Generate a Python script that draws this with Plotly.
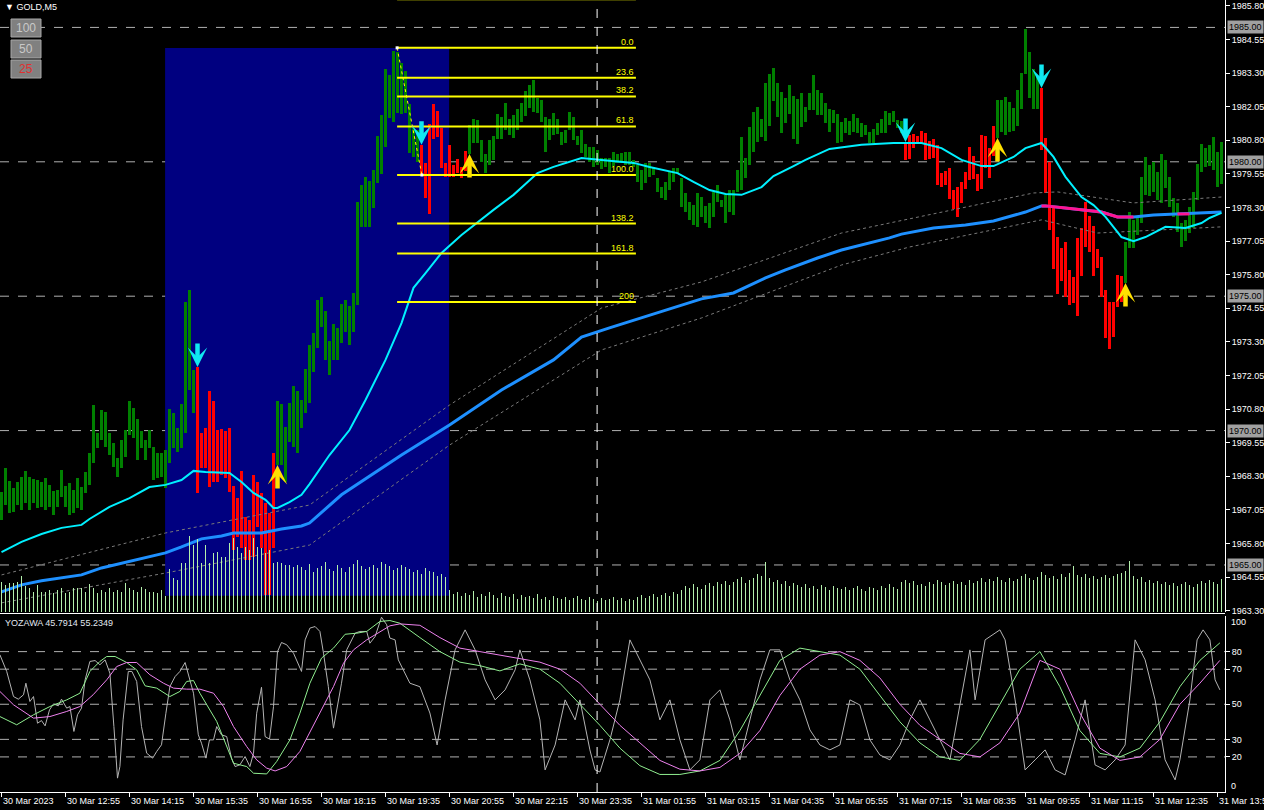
import plotly.graph_objects as go

# ---------------- data ----------------
bar_high = [
1967.72,1968.61,1968.13,1967.87,1968.09,1968.27,1968.50,1968.27,1968.20,1968.16,
1968.09,1968.24,1967.98,1967.75,1967.79,1968.54,1967.94,1968.05,1967.79,1968.24,
1967.90,1968.46,1969.17,1970.95,1969.91,1970.77,1970.69,1969.91,1969.54,1968.98,
1969.65,1970.02,1971.10,1970.84,1970.43,1969.98,1969.65,1970.02,1969.39,1969.17,
1969.17,1969.28,1970.80,1970.66,1970.10,1971.00,1974.79,1975.23,1972.26,1972.37,
1969.91,1970.10,1971.47,1971.10,1970.02,1970.06,1969.98,1970.10,1967.94,1967.49,
1968.50,1966.79,1966.68,1968.35,1968.09,1967.68,1967.31,1966.94,1969.17,1971.10,
1970.99,1970.13,1971.03,1971.66,1971.47,1971.14,1972.29,1973.19,1973.63,1974.86,
1974.97,1974.45,1973.33,1973.97,1973.82,1974.71,1974.86,1974.64,1975.12,1978.51,
1979.14,1979.44,1979.29,1979.70,1980.96,1981.74,1983.45,1983.23,1984.12,1984.09,
1983.68,1983.38,1982.15,1981.26,1981.18,1980.63,1979.96,1981.41,1982.15,1981.89,
1981.26,1979.96,1980.63,1979.88,1980.11,1979.81,1980.40,1981.37,1981.59,1981.56,
1980.81,1980.29,1980.81,1980.96,1981.78,1981.67,1982.19,1981.59,1981.74,1981.97,
1982.19,1982.63,1982.86,1983.04,1982.37,1982.30,1981.67,1981.59,1981.82,1981.59,
1981.11,1981.18,1981.85,1981.67,1980.96,1981.18,1980.66,1980.55,1980.55,1980.44,
1980.14,1980.14,1980.14,1980.37,1980.29,1980.33,1980.37,1980.37,1980.07,1979.88,
1979.70,1979.96,1979.96,1979.81,1979.40,1979.06,1979.25,1979.66,1979.77,1979.77,
1979.40,1978.84,1978.51,1978.39,1978.84,1978.69,1978.36,1978.47,1978.88,1979.14,
1978.58,1978.77,1978.95,1978.95,1979.70,1980.92,1980.14,1981.30,1981.85,1982.04,
1981.59,1982.93,1983.27,1983.49,1982.93,1982.60,1982.37,1982.86,1982.45,1982.34,
1982.56,1982.04,1982.56,1983.23,1982.67,1982.56,1982.19,1981.97,1981.93,1981.78,
1981.48,1981.63,1981.52,1981.78,1981.63,1981.44,1981.37,1981.11,1981.22,1981.44,
1981.59,1981.89,1981.82,1981.89,1981.56,1981.52,1980.74,1981.00,1981.04,1980.96,
1981.15,1981.07,1980.77,1980.85,1980.63,1979.58,1979.66,1979.77,1978.95,1979.06,
1979.25,1979.62,1980.55,1980.22,1979.55,1981.00,1980.96,1980.51,1981.33,1982.30,
1982.30,1982.41,1982.23,1982.00,1982.67,1983.30,1984.94,1984.09,1983.45,1983.16,
1982.75,1980.89,1979.99,1978.28,1977.20,1976.79,1977.02,1975.98,1975.72,1977.17,
1977.54,1978.51,1977.98,1977.61,1976.76,1976.46,1975.23,1974.79,1974.79,1975.79,
1975.75,1977.02,1978.13,1977.84,1977.95,1979.44,1980.18,1979.88,1980.00,1979.62,
1980.29,1980.07,1979.44,1978.65,1978.47,1977.72,1977.84,1978.32,1978.88,1979.92,
1980.66,1980.51,1980.63,1980.92,1980.37,1980.74]

bar_low = [
1966.68,1967.23,1966.94,1966.97,1967.23,1967.05,1967.31,1967.05,1967.31,1967.12,
1967.16,1967.05,1967.16,1966.86,1967.16,1967.53,1967.16,1966.86,1966.94,1967.12,
1967.05,1967.68,1967.98,1968.80,1969.35,1969.65,1969.39,1969.09,1968.65,1968.27,
1968.61,1969.02,1969.84,1969.72,1968.91,1969.35,1968.91,1969.35,1968.16,1968.24,
1968.27,1967.87,1968.80,1969.35,1969.20,1969.35,1969.91,1971.51,1970.66,1967.68,
1968.61,1968.61,1967.90,1968.09,1968.09,1968.35,1968.24,1967.72,1965.56,1966.04,
1965.63,1965.19,1965.19,1965.30,1966.42,1965.63,1963.88,1963.88,1965.63,1968.72,
1968.72,1968.09,1969.58,1969.39,1969.17,1970.10,1970.66,1971.03,1972.18,1973.07,
1973.86,1972.63,1972.07,1972.63,1972.63,1973.26,1973.67,1973.19,1973.67,1974.67,
1977.58,1977.58,1977.58,1978.28,1979.21,1979.55,1980.55,1981.63,1981.48,1981.82,
1981.78,1981.82,1980.33,1980.18,1980.00,1979.51,1978.65,1978.06,1980.85,1980.92,
1979.77,1979.44,1979.44,1979.44,1979.58,1979.40,1979.66,1980.29,1980.70,1980.70,
1980.00,1979.58,1979.88,1980.07,1980.85,1980.85,1981.18,1981.00,1980.89,1981.18,
1981.48,1981.70,1982.00,1981.85,1981.82,1981.48,1980.37,1980.81,1981.00,1981.04,
1980.63,1980.70,1981.18,1980.81,1980.63,1980.33,1980.18,1980.00,1979.81,1979.88,
1979.73,1979.81,1979.58,1979.84,1979.96,1979.96,1979.88,1979.88,1979.81,1979.25,
1978.95,1979.21,1979.44,1979.51,1978.88,1978.65,1978.58,1978.95,1979.25,1979.55,
1978.32,1978.13,1977.84,1977.65,1977.58,1977.95,1977.72,1977.54,1977.95,1978.51,
1978.32,1977.72,1978.13,1978.02,1978.88,1978.95,1979.40,1979.88,1980.37,1980.74,
1980.92,1980.77,1981.33,1982.26,1981.67,1981.07,1981.44,1981.78,1980.85,1980.66,
1981.30,1981.48,1981.93,1981.93,1981.74,1981.74,1981.44,1981.11,1981.44,1980.70,
1980.74,1981.07,1981.00,1981.11,1981.07,1980.92,1981.00,1980.70,1980.70,1981.00,
1981.07,1981.07,1981.37,1981.48,1981.26,1981.07,1980.07,1980.11,1980.51,1980.70,
1980.70,1980.07,1980.11,1980.14,1979.14,1979.06,1979.14,1978.62,1978.24,1977.95,
1978.47,1978.99,1979.32,1979.36,1978.92,1978.99,1979.77,1979.40,1980.22,1980.89,
1981.11,1981.00,1981.11,1981.15,1981.33,1981.97,1983.27,1982.37,1981.97,1981.97,
1980.44,1978.84,1977.46,1976.01,1975.08,1975.57,1974.97,1974.67,1974.75,1974.26,
1975.75,1976.83,1976.64,1975.75,1976.05,1974.97,1973.45,1973.04,1973.48,1974.60,
1974.79,1975.49,1976.79,1976.79,1977.28,1977.72,1978.77,1978.73,1978.88,1978.58,
1978.47,1979.03,1978.32,1977.95,1977.39,1976.83,1977.05,1977.35,1977.54,1978.58,
1979.62,1979.81,1979.84,1979.70,1979.06,1979.18]

volume = [
300,270,290,290,300,360,260,240,200,270,200,200,220,190,220,240,190,200,240,240,
240,200,280,240,190,220,200,240,200,220,200,290,240,220,200,250,230,200,200,190,
220,160,
430,340,320,490,490,760,670,730,490,670,490,590,600,550,550,690,740,650,590,650,
620,740,650,640,590,620,490,500,490,470,470,450,470,
450,420,480,400,440,460,500,430,410,470,440,400,450,480,520,460,430,450,470,440,
500,480,460,420,440,470,450,430,400,420,380,440,410,400,360,380,350,
220,180,200,160,190,170,210,150,180,160,200,170,140,190,160,150,180,130,170,150,
160,140,180,130,150,120,160,140,130,150,120,140,160,130,120,150,130,110,140,120,
130,150,120,140,110,130,120,150,170,140,160,180,150,170,190,160,200,180,
220,260,240,280,250,230,270,290,260,300,280,310,270,300,330,350,290,320,340,380,
360,500,340,300,320,280,310,260,290,270,250,280,240,260,230,270,250,220,260,240,
230,250,220,240,260,230,210,250,240,220,260,240,280,250,230,300,320,290,310,270,
280,260,300,280,320,300,270,290,310,280,300,270,320,290,310,340,300,330,310,350,
320,300,340,310,330,360,380,340,320,350,400,370,340,360,330,380,350,390,460,370,
350,380,340,360,330,350,370,340,360,380,390,410,510,360,330,350,300,320,290,310,
280,300,270,290,260,280,300,270,250,280,310,290,320,300,280,330]

sell_idx = [49, 105, 226, 260]
buy_idx = [69, 117, 249, 281]

fast_ma_idx = [0,5,10,15,20,22,27,32,37,41,45,48,51,57,60,63,66,68,69,72,75,77,82,87,91,96,
               100,103,106,110,115,119,123,128,134,138,141,145,150,158,162,169,173,177,181,185,
               190,193,198,201,207,215,223,230,235,240,245,248,253,256,260,263,266,270,273,276,
               280,283,286,291,296,300,302,305]
fast_ma = [1965.48,1965.86,1966.15,1966.38,1966.49,1966.71,1967.16,1967.49,1967.90,1967.98,
           1968.16,1968.50,1968.46,1968.42,1968.09,1967.68,1967.42,1967.12,1967.12,1967.34,
           1967.61,1968.01,1969.09,1970.02,1971.14,1972.63,1974.00,1975.31,1975.86,1976.61,
           1977.28,1977.76,1978.21,1978.77,1979.58,1979.81,1979.96,1980.14,1980.07,1979.96,
           1979.81,1979.58,1979.25,1978.95,1978.80,1978.77,1979.06,1979.47,1979.84,1980.07,
           1980.48,1980.63,1980.70,1980.70,1980.51,1980.07,1979.84,1979.84,1980.18,1980.51,
           1980.70,1980.18,1979.44,1978.69,1978.39,1977.95,1977.20,1977.05,1977.20,1977.58,
           1977.54,1977.72,1977.91,1978.10]

slow_ma_idx = [0,5,10,15,20,25,30,35,41,45,50,55,58,65,70,75,77,85,100,112,125,138,145,152,175,
               183,191,196,204,210,216,222,225,233,241,248,256,260,261,266,271,275,279,283,288,
               294,297,302,305]
slow_ma = [1964.00,1964.26,1964.41,1964.52,1964.63,1964.89,1965.07,1965.26,1965.45,1965.67,
           1965.97,1966.08,1966.19,1966.19,1966.34,1966.45,1966.56,1967.61,1969.09,1970.21,
           1971.51,1972.63,1973.48,1973.82,1974.90,1975.12,1975.68,1975.98,1976.42,1976.72,
           1976.94,1977.17,1977.31,1977.54,1977.65,1977.80,1978.13,1978.36,1978.36,1978.28,
           1978.21,1978.13,1977.95,1977.95,1978.02,1978.06,1978.06,1978.10,1978.13]
slow_down_ranges = [(260, 283), (294, 298)]

env_up_idx = [0,41,77,112,150,175,210,227,258,264,283,305]
env_up = [1964.63,1966.19,1967.23,1970.95,1974.56,1975.53,1977.35,1977.87,1978.84,1978.88,1978.47,1978.69]
env_lo_idx = [0,41,77,112,150,175,210,227,260,274,305]
env_lo = [1963.59,1964.70,1965.74,1969.46,1973.00,1974.19,1976.16,1976.83,1977.84,1977.35,1977.58]

osc_main_x = [-0.4,1.3,3.0,4.2,5.5,6.1,7.1,8.0,9.0,10.0,10.9,12.0,13.0,14.2,15.0,16.3,17.1,18.1,19.0,20.0,
              20.9,22.1,23.4,24.6,25.9,27.1,28.1,29.0,29.6,30.4,31.7,32.6,33.8,35.0,36.3,37.8,38.8,40.0,41.1,42.1,
              43.4,44.6,45.9,47.0,48.0,49.2,50.0,51.1,52.0,53.0,53.8,55.0,56.3,57.5,58.4,59.6,60.9,62.1,63.0,63.8,
              65.0,65.9,67.0,68.0,69.0,70.0,71.3,73.0,74.2,75.0,75.9,77.1,78.4,79.6,80.5,81.7,83.0,84.2,85.0,86.3,
              87.1,88.4,89.6,91.3,92.1,93.4,95.0,96.3,97.1,98.4,99.2,
              102.1,104.6,107.1,108.9,110.9,113.4,115.9,118.4,120.9,123.4,125.9,128.4,129.6,132.1,134.6,135.9,
              138.4,140.9,143.4,144.6,147.1,148.4,149.6,152.1,154.6,157.1,159.6,162.1,164.6,167.1,169.6,172.1,
              174.6,177.1,179.6,182.1,184.6,187.1,189.6,192.1,194.6,197.1,199.6,202.1,204.6,207.1,209.6,212.1,
              214.6,217.1,219.6,222.1,224.6,227.1,229.6,232.1,234.6,237.1,239.6,242.1,243.4,245.9,249.6,250.9,
              253.4,255.9,258.4,260.9,263.4,265.9,268.4,270.9,273.4,275.9,278.4,280.9,283.4,285.9,288.4,290.9,
              293.4,294.6,297.1,298.9,300.4,302.1,303.4,304.6]
osc_main = [78.2,68.7,54.4,52.9,55.4,62,51.6,54.4,39.2,40.7,37.7,46.8,50.2,49.1,52.9,47.8,48.7,34.5,44,47.8,
            63.9,74.4,74.9,72.5,75.3,67.7,37.3,7.9,14.5,41.1,68.7,68.7,63,37.3,22.1,19.3,23.1,26.9,44.9,60.1,
            65.8,68.7,73.8,64.9,56.3,32.6,27.8,19.3,29.7,29.7,37.3,32.6,31.6,19.3,14.5,15.5,20.2,14.5,22.1,44.9,
            59.7,31.6,30.1,48.7,80,85.2,83.9,79.1,73.4,68.7,86.7,93.4,94.3,91.5,79.1,60.1,36.4,50.6,62,81,
            84.8,90.5,91.5,91.5,84.8,88.6,99.6,95.3,87.7,86.7,75.3,
            62,60,45,26.8,52.5,81,92.4,81,63.9,52.5,58.2,69.6,81,63.9,41.1,12.6,
            26.8,52.5,41.1,52.5,24,12.6,11.4,29.7,52.5,86.7,75.3,63.9,41.1,52.5,29.7,12.6,
            18.3,52.5,58.2,41.1,18.3,41.1,63.9,81,81,63.9,52.5,35.4,26.8,24,26.8,52.5,
            49.6,29.7,21.1,18.3,26.8,41.1,52.5,41.1,29.7,18.3,49.6,81,52.5,86.7,92.4,86.7,
            52.5,12.6,18.3,24,12.6,9.7,29.7,52.5,15.4,12.6,18.3,26.8,86.7,75.3,52.5,18.3,
            6.9,18.3,52.5,86.7,92.4,86.7,63.9,58.2]

osc_green_x = [-0.4,3.8,8.0,12.1,16.3,19.6,22.1,24.6,26.3,28.4,31.3,33.8,35.9,38.8,42.1,44.6,46.3,48.0,
               49.6,53.8,58.0,61.3,63.0,66.3,68.8,72.1,74.6,77.1,80.0,83.0,85.9,88.8,91.3,94.6,97.1,99.6,
               104.6,109.6,114.6,119.6,124.6,129.6,134.6,139.6,144.6,149.6,154.6,159.6,164.6,169.6,174.6,
               179.6,184.6,189.6,194.6,199.6,204.6,209.6,214.6,219.6,224.6,229.6,234.6,239.6,244.6,249.6,
               254.6,259.6,264.6,269.6,274.6,279.6,284.6,289.6,294.6,299.6,304.6]
osc_green = [43,38.3,44,48.7,52.5,56.3,68.7,74.4,77.2,77.2,73.8,69.6,60.5,59.2,54.4,57.3,63,63.5,
             56.3,40.2,16.4,14.5,10.7,10.3,17.4,29.7,44.9,62,76.3,82,89.9,90.5,91.5,97.2,97.7,96.2,
             88,80,74,72,69,73,70,62,50,38,25,15,10,10,12,
             18,35,55,75,82,80,78,70,55,40,28,20,18,30,50,
             70,80,60,35,22,20,25,40,60,75,85]

osc_violet_x = [-0.4,3.0,8.0,12.1,16.3,19.6,22.9,26.3,28.8,31.3,33.8,37.1,40.5,43.0,46.3,49.6,53.0,55.5,
                58.0,61.3,63.8,66.3,68.4,71.3,74.6,77.9,80.5,83.0,85.5,88.0,91.3,94.6,97.1,99.6,
                104.6,109.6,114.6,119.6,124.6,129.6,134.6,139.6,144.6,149.6,154.6,159.6,164.6,169.6,174.6,
                179.6,184.6,189.6,194.6,199.6,204.6,209.6,214.6,219.6,224.6,229.6,234.6,239.6,244.6,249.6,
                254.6,259.6,264.6,269.6,274.6,279.6,284.6,289.6,294.6,299.6,304.6]
osc_violet = [57.3,49.7,42.1,43,45.9,48.7,55.4,63.9,71.5,73.8,73.8,66.8,62,59.2,58.6,58.6,56.3,48.7,
              37.3,25.9,18.3,13.6,12,14.5,23.1,37.3,48.7,60.1,73.4,81,86.7,91.5,94.7,95.8,
              95,88,82,80,78,76,74,70,62,50,38,28,18,13,12,
              14,22,35,55,70,78,80,75,65,50,38,30,22,20,28,
              45,75,70,45,25,18,20,30,50,62,75]

time_labels = ["30 Mar 2023","30 Mar 12:55","30 Mar 14:15","30 Mar 15:35","30 Mar 16:55",
               "30 Mar 18:15","30 Mar 19:35","30 Mar 20:55","30 Mar 22:15","30 Mar 23:35",
               "31 Mar 01:55","31 Mar 03:15","31 Mar 04:35","31 Mar 05:55","31 Mar 07:15",
               "31 Mar 08:35","31 Mar 09:55","31 Mar 11:15","31 Mar 12:35","31 Mar 13:55"]
time_label_idx = [16 * k for k in range(len(time_labels))]

price_ticks = [1985.80,1984.55,1983.30,1982.05,1980.80,1979.55,1978.30,1977.05,1975.80,1974.55,
               1973.30,1972.05,1970.80,1969.55,1968.30,1967.05,1965.80,1964.55,1963.30]
round_levels = [1985.0, 1980.0, 1975.0, 1970.0, 1965.0]
osc_levels = [80, 70, 50, 30, 20]

fib_high, fib_low = 1984.24, 1979.51
fib_high_idx, fib_low_idx, fib_end_idx = 98.9, 105.1, 158.6
fib_levels = [-38.2, 0.0, 23.6, 38.2, 61.8, 100.0, 138.2, 161.8, 200.0]
fib_labels = ["", "0.0", "23.6", "38.2", "61.8", "100.0", "138.2", "161.8", "200"]

box_start_idx, box_end_idx = 40.9, 111.9
box_top, box_bottom = 1984.23, 1963.85
cursor_idx = 148.9

# ---------------- geometry ----------------
W, H = 1264, 810
ML, MR, MT, MB = 0, 39, 0, 18
PW, PH = W - ML - MR, H - MT - MB
main_bottom_px, osc_top_px = 612, 616
main_dom = [1 - main_bottom_px / PH, 1]
osc_dom = [0, 1 - osc_top_px / PH]
XR = [-0.375, 305.875]
YR = [1963.25, 1986.02]
OR = [0, 100.3]

def px(x):
    return x / PW

def py(y):
    return 1 - y / PH

FONT = "Liberation Sans"
FS = 9
n = len(bar_high)
idx = list(range(n))
colors = []
for i in idx:
    red = any(s <= i < b for s, b in zip(sell_idx, buy_idx))
    colors.append("#ff0000" if red else "#008000")

fig = go.Figure()

# volume
fig.add_trace(go.Bar(x=idx, y=volume, width=0.25, marker=dict(color="#b4f0ac", line_width=0),
                     yaxis="y3", hoverinfo="skip", showlegend=False))
# candles (body range)
fig.add_trace(go.Bar(x=idx, y=[h - l for h, l in zip(bar_high, bar_low)], base=bar_low,
                     width=0.78, marker=dict(color=colors, line_width=0), showlegend=False))
# envelope
fig.add_trace(go.Scatter(x=env_up_idx, y=env_up, mode="lines", line=dict(color="#7a7a7a", width=1, dash="dot"),
                         showlegend=False))
fig.add_trace(go.Scatter(x=env_lo_idx, y=env_lo, mode="lines", line=dict(color="#7a7a7a", width=1, dash="dot"),
                         showlegend=False))
# slow MA
fig.add_trace(go.Scatter(x=slow_ma_idx, y=slow_ma, mode="lines", line=dict(color="#1e90ff", width=3),
                         showlegend=False))
for a, b in slow_down_ranges:
    xs = [i for i in slow_ma_idx if a <= i <= b]
    ys = [v for i, v in zip(slow_ma_idx, slow_ma) if a <= i <= b]
    fig.add_trace(go.Scatter(x=xs, y=ys, mode="lines", line=dict(color="#ff1493", width=3), showlegend=False))
# fast MA
fig.add_trace(go.Scatter(x=fast_ma_idx, y=fast_ma, mode="lines", line=dict(color="#00f0ff", width=2),
                         showlegend=False))

# fibonacci
rng = fib_high - fib_low
for lv, lab in zip(fib_levels, fib_labels):
    p = fib_high - rng * lv / 100.0
    fig.add_trace(go.Scatter(x=[fib_high_idx, fib_end_idx], y=[p, p], mode="lines",
                             line=dict(color="#ffff00", width=2), showlegend=False, hoverinfo="skip"))
    if lab:
        fig.add_annotation(x=fib_end_idx, y=p, text=lab, showarrow=False, xanchor="right", yanchor="bottom",
                           yshift=-1, font=dict(family=FONT, size=FS, color="#ffff00"))
fig.add_trace(go.Scatter(x=[fib_high_idx, fib_low_idx], y=[fib_high, fib_low], mode="lines+markers",
                         line=dict(color="#ffff00", width=1, dash="dot"),
                         marker=dict(color="white", size=3, symbol="square"), showlegend=False))

# oscillator
fig.add_trace(go.Scatter(x=osc_main_x, y=osc_main, mode="lines", line=dict(color="#b4b4b4", width=1),
                         yaxis="y2", showlegend=False))
fig.add_trace(go.Scatter(x=osc_green_x, y=osc_green, mode="lines", line=dict(color="#90ee90", width=1),
                         yaxis="y2", showlegend=False))
fig.add_trace(go.Scatter(x=osc_violet_x, y=osc_violet, mode="lines", line=dict(color="#ee82ee", width=1),
                         yaxis="y2", showlegend=False))

shapes = []
shapes.append(dict(type="rect", xref="x", yref="y", x0=box_start_idx, x1=box_end_idx, y0=box_bottom, y1=box_top,
                   fillcolor="#000080", line_width=0, layer="below"))
for lv in round_levels:
    shapes.append(dict(type="line", xref="paper", yref="y", x0=0, x1=1, y0=lv, y1=lv,
                       line=dict(color="#b0b0b0", width=1, dash="dash"), layer="below"))
for lv in osc_levels:
    shapes.append(dict(type="line", xref="paper", yref="y2", x0=0, x1=1, y0=lv, y1=lv,
                       line=dict(color="#b0b0b0", width=1, dash="dash"), layer="below"))
shapes.append(dict(type="line", xref="x", yref="paper", x0=cursor_idx, x1=cursor_idx, y0=0, y1=1,
                   line=dict(color="#ffffff", width=1, dash="dash"), layer="above"))
# pane separator
shapes.append(dict(type="line", xref="paper", yref="paper", x0=0, x1=1, y0=py(613.5), y1=py(613.5),
                   line=dict(color="#ffffff", width=1)))
# chart buttons
btns = [("100", 19, "#c8c8c8"), ("50", 40, "#c8c8c8"), ("25", 60, "#e03030")]
for t, y0, c in btns:
    shapes.append(dict(type="rect", xref="paper", yref="paper", x0=px(11), x1=px(41), y0=py(y0 + 18), y1=py(y0),
                       fillcolor="#808080", line=dict(color="#a8a8a8", width=1)))
    fig.add_annotation(xref="paper", yref="paper", x=px(26), y=py(y0 + 9), text=t, showarrow=False,
                       font=dict(family=FONT, size=12, color=c), xanchor="center", yanchor="middle")

# signal arrows
for i in sell_idx:
    fig.add_annotation(x=i, y=bar_high[i], ax=0, ay=-25, showarrow=True, arrowhead=3, arrowsize=0.72,
                       arrowwidth=4.5, arrowcolor="#10e8f0", text="", standoff=0)
for i in buy_idx:
    fig.add_annotation(x=i, y=bar_low[i], ax=0, ay=25, showarrow=True, arrowhead=3, arrowsize=0.72,
                       arrowwidth=4.5, arrowcolor="#ffe000", text="", standoff=0)

# price highlight labels
for lv in round_levels:
    fig.add_annotation(xref="paper", yref="y", x=1, y=lv, xanchor="left", xshift=2, text="%.2f" % lv,
                       showarrow=False, bgcolor="#a0a0a0", borderpad=1,
                       font=dict(family=FONT, size=FS, color="#000000"))
# osc end labels
fig.add_annotation(xref="paper", yref="y2", x=1, y=97, xanchor="left", xshift=4, text="100", showarrow=False,
                   font=dict(family=FONT, size=FS, color="white"))
fig.add_annotation(xref="paper", yref="y2", x=1, y=3.5, xanchor="left", xshift=4, text="0", showarrow=False,
                   font=dict(family=FONT, size=FS, color="white"))
# time labels
for i, t in zip(time_label_idx, time_labels):
    fig.add_annotation(x=i, xref="x", yref="paper", y=0, yanchor="top", xanchor="left", xshift=-1, yshift=-2,
                       text=t, showarrow=False, font=dict(family=FONT, size=FS, color="white"))
# titles
fig.add_annotation(xref="paper", yref="paper", x=px(3), y=py(0), xanchor="left", yanchor="top",
                   text="▼ GOLD,M5", showarrow=False, font=dict(family=FONT, size=FS, color="white"))
fig.add_annotation(xref="paper", yref="paper", x=px(3), y=py(616), xanchor="left", yanchor="top",
                   text="YOZAWA 45.7914 55.2349", showarrow=False, font=dict(family=FONT, size=FS, color="#e0e8f0"))

fig.update_layout(
    width=W, height=H, margin=dict(l=ML, r=MR, t=MT, b=MB),
    paper_bgcolor="#000000", plot_bgcolor="#000000", barmode="overlay", bargap=0,
    showlegend=False, shapes=shapes,
    xaxis=dict(range=XR, showgrid=False, zeroline=False, showticklabels=False, tickvals=time_label_idx,
               ticks="outside", ticklen=4, tickcolor="white", showline=True, linecolor="white", linewidth=1,
               anchor="y2", fixedrange=True),
    yaxis=dict(domain=main_dom, range=YR, side="right", tickvals=price_ticks,
               ticktext=["%.2f" % v for v in price_ticks], ticks="outside", ticklen=4, tickcolor="white",
               showline=True, linecolor="white", showgrid=False, zeroline=False, automargin=False,
               tickfont=dict(family=FONT, size=FS, color="white")),
    yaxis2=dict(domain=osc_dom, range=OR, side="right", tickvals=osc_levels, ticks="outside", ticklen=4,
                tickcolor="white", showline=True, linecolor="white", showgrid=False, zeroline=False,
                automargin=False, tickfont=dict(family=FONT, size=FS, color="white")),
    yaxis3=dict(overlaying="y", range=[0, 6120], visible=False),
)

fig.write_html("out.html", config={"displayModeBar": False})
with open("out.html", "r", encoding="utf-8") as f:
    html = f.read()
html = html.replace("<head>", "<head><style>html,body{margin:0;padding:0;overflow:hidden;background:#000;}</style>", 1)
with open("out.html", "w", encoding="utf-8") as f:
    f.write(html)
